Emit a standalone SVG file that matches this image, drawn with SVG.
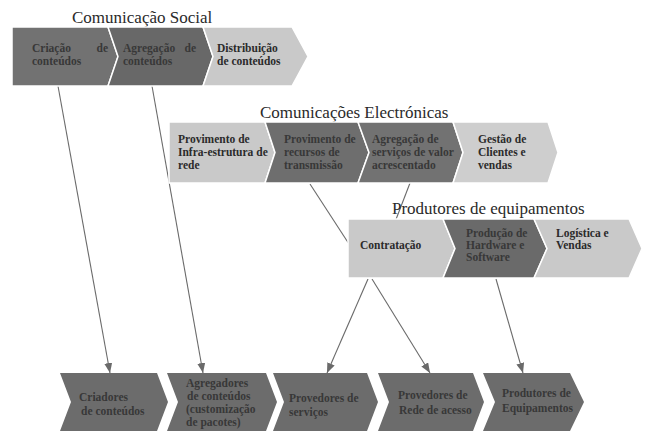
<svg xmlns="http://www.w3.org/2000/svg" width="645" height="434" viewBox="0 0 645 434">
<style>
.title{font-family:"Liberation Serif",serif;font-size:17px;fill:#2a2a2a}
.t{font-family:"Liberation Serif",serif;font-size:11.5px;font-weight:bold;fill:#2b2b2b}
.td{font-family:"Liberation Serif",serif;font-size:11.5px;font-weight:bold;fill:#383838}
.light{fill:#c9c9c9;stroke:#ffffff;stroke-width:1.5}
.dark{fill:#6e6e6e;stroke:#ffffff;stroke-width:1.5}
.bot{fill:#6c6c6c}
.conn{stroke:#6a6a6a;stroke-width:1.1;fill:none}
.arr{marker-end:url(#ah)}
</style>
<defs>
<marker id="ah" viewBox="0 0 10 8" refX="10" refY="4" markerWidth="10" markerHeight="8" markerUnits="userSpaceOnUse" orient="auto">
<path d="M0,0 L10,4 L0,8 z" fill="#6a6a6a"/>
</marker>
</defs>
<rect width="645" height="434" fill="#ffffff"/>

<g id="connectors">
<line class="conn arr" x1="58" y1="86" x2="110" y2="373"/>
<line class="conn arr" x1="152" y1="86" x2="203" y2="373"/>
<line class="conn" x1="310" y1="184" x2="349" y2="244"/>
<line class="conn" x1="410" y1="183" x2="395" y2="222"/>
<line class="conn arr" x1="368" y1="279" x2="327" y2="373"/>
<line class="conn arr" x1="372" y1="279" x2="430" y2="373"/>
<line class="conn arr" x1="496" y1="279" x2="523" y2="373"/>
</g>

<!-- Comunicação Social -->
<text class="title" x="72" y="23">Comunicação Social</text>
<g id="cs-criacao">
<polygon class="dark" style="fill:#727272" points="12,27 108,27 118,56.5 108,86 12,86"/>
<text class="td" x="32" y="52">Criação</text><text class="td" x="108" y="52" text-anchor="end">de</text>
<text class="td" x="32" y="65">conteúdos</text>
</g>
<g id="cs-agregacao">
<polygon class="dark" style="fill:#686868" points="108,27 203,27 213,56.5 203,86 108,86 118,56.5"/>
<text class="td" x="123" y="52">Agregação</text><text class="td" x="196" y="52" text-anchor="end">de</text>
<text class="td" x="123" y="65">conteúdos</text>
</g>
<g id="cs-distribuicao">
<polygon class="light" points="203,27 292,27 308,56.5 292,86 203,86 213,56.5"/>
<text class="t" x="217" y="52">Distribuição</text>
<text class="t" x="217" y="65">de conteúdos</text>
</g>

<!-- Comunicações Electrónicas -->
<text class="title" x="260" y="118">Comunicações Electrónicas</text>
<g id="ce-infra">
<polygon class="light" points="169,122 265,122 275,152.5 265,183 169,183"/>
<text class="t" x="178" y="143">Provimento de</text>
<text class="t" x="178" y="156">Infra-estrutura de</text>
<text class="t" x="178" y="169">rede</text>
</g>
<g id="ce-recursos">
<polygon class="dark" points="265,122 358,122 369,152.5 358,183 265,183 275,152.5"/>
<text class="td" x="284" y="143">Provimento de</text>
<text class="td" x="284" y="156">recursos de</text>
<text class="td" x="284" y="169">transmissão</text>
</g>
<g id="ce-agregacao">
<polygon class="dark" style="fill:#727272" points="358,122 453,122 463,152.5 453,183 358,183 369,152.5"/>
<text class="td" x="372" y="143">Agregação de</text>
<text class="td" x="372" y="156">serviços de valor</text>
<text class="td" x="372" y="169">acrescentado</text>
</g>
<g id="ce-gestao">
<polygon class="light" style="fill:#cecece" points="453,122 548,122 558,152.5 548,183 453,183 463,152.5"/>
<text class="t" x="478" y="143">Gestão de</text>
<text class="t" x="478" y="156">Clientes e</text>
<text class="t" x="478" y="169">vendas</text>
</g>

<!-- Produtores de equipamentos -->
<text class="title" x="392" y="214">Produtores de equipamentos</text>
<g id="pe-contratacao">
<polygon class="light" points="348,219 443,219 455,248.5 443,278 348,278"/>
<text class="t" x="360" y="249">Contratação</text>
</g>
<g id="pe-producao">
<polygon class="dark" style="fill:#6a6a6a" points="443,219 534,219 547,248.5 534,278 443,278 455,248.5"/>
<text class="td" x="466" y="237">Produção de</text>
<text class="td" x="466" y="249">Hardware e</text>
<text class="td" x="466" y="261">Software</text>
</g>
<g id="pe-logistica">
<polygon class="light" points="534,219 629,219 642,248.5 629,278 534,278 547,248.5"/>
<text class="t" x="556" y="237">Logística e</text>
<text class="t" x="556" y="249">Vendas</text>
</g>

<!-- bottom row -->
<g id="b-criadores">
<polygon class="bot" points="60,373 157,373 168,402 157,431 60,431 71,402"/>
<text class="td" x="79" y="401">Criadores</text>
<text class="td" x="81" y="415">de conteúdos</text>
</g>
<g id="b-agregadores">
<polygon class="bot" points="167,373 266,373 277,402 266,431 167,431 178,402"/>
<text class="td" x="186" y="387">Agregadores</text>
<text class="td" x="187" y="400">de conteúdos</text>
<text class="td" x="186" y="413">(customização</text>
<text class="td" x="186" y="426">de pacotes)</text>
</g>
<g id="b-servicos">
<polygon class="bot" points="273,373 367,373 378,402 367,431 273,431 284,402"/>
<text class="td" x="289" y="402">Provedores de</text>
<text class="td" x="289" y="416">serviços</text>
</g>
<g id="b-acesso">
<polygon class="bot" points="378,373 473,373 484,402 473,431 378,431 389,402"/>
<text class="td" x="398" y="399">Provedores de</text>
<text class="td" x="399" y="414">Rede de acesso</text>
</g>
<g id="b-equipamentos">
<polygon class="bot" points="483,373 570,373 584,402 570,431 483,431 495,402"/>
<text class="td" x="502" y="397">Produtores de</text>
<text class="td" x="502" y="412">Equipamentos</text>
</g>
</svg>
